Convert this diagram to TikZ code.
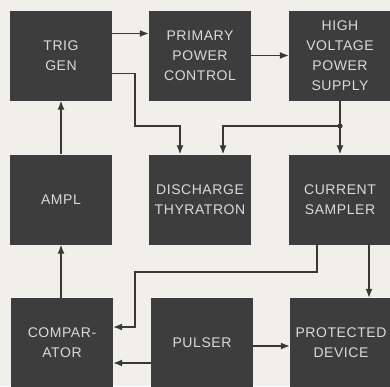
\documentclass[tikz,border=0pt]{standalone}
\usepackage{fontspec}
\setmainfont{Liberation Sans}[LetterSpace=4]
\usetikzlibrary{arrows.meta}

\definecolor{paper}{HTML}{F1EFEA}
\definecolor{boxgray}{HTML}{3D3D3D}
\definecolor{inkgray}{HTML}{383838}
\definecolor{lettergray}{HTML}{DADADA}

\begin{document}
\begin{tikzpicture}[x=1pt, y=-1pt,
  block/.style={rectangle, fill=boxgray, text=lettergray, minimum width=102pt,
    minimum height=90pt, inner sep=0pt, align=center,
    font=\fontsize{14}{20}\selectfont},
  wire/.style={draw=inkgray, line width=1.3pt},
  flow/.style={wire, -{Latex[length=9pt, width=7pt]}}]

  % Paper, cut at the picture edge
  \useasboundingbox (0,0) rectangle (390,386);
  \clip (0,0) rectangle (390,386);
  \fill[paper] (0,0) rectangle (390,386);

  % Draw the blocks
  \node[block] (trig) at (61,55.5) {TRIG\\GEN};
  \node[block] (prim) at (200,55.5) {PRIMARY\\POWER\\CONTROL};
  \node[block] (hv) at (340,55.5) {HIGH\\VOLTAGE\\POWER\\SUPPLY};
  \node[block] (ampl) at (61,199.5) {AMPL};
  \node[block] (disch) at (200,199.5) {DISCHARGE\\THYRATRON};
  \node[block] (cur) at (340,199.5) {CURRENT\\SAMPLER};
  \node[block] (comp) at (62,343) {COMPAR-\\ATOR};
  \node[block] (puls) at (202,343) {PULSER};
  \node[block] (prot) at (341,343) {PROTECTED\\DEVICE};

  % Draw the trigger path
  \draw[flow] ([yshift=22pt]trig.east) -- ([yshift=22pt]prim.west);
  \draw[flow] (prim.east) -- (hv.west);
  \coordinate (bend) at (135,126);
  \draw[flow] ([yshift=-18pt]trig.east) -| (bend) -| ([xshift=-20pt]disch.north);

  % Draw the supply split
  \coordinate (jn) at (hv.south |- bend);
  \draw[flow] (hv.south) -- (cur.north);
  \draw[flow] (jn) -| ([xshift=23pt]disch.north);
  \fill[inkgray] (jn) circle (2.6pt);

  % Draw the feedback loop
  \draw[flow] (ampl.north) -- (trig.south);
  \draw[flow] ([xshift=-1pt]comp.north) -- ([xshift=-1pt]comp.north |- ampl.south);
  \coordinate (drop) at (135,272);
  \draw[flow] ([xshift=-23pt]cur.south) |- (drop) |- ([yshift=16pt]comp.east);

  % Draw the pulser outputs
  \draw[flow] ([xshift=29pt]cur.south) -- ([xshift=29pt]cur.south |- prot.north);
  \draw[flow] ([yshift=-3pt]puls.east) -- ([yshift=-3pt]prot.west);
  \draw[flow] ([yshift=-20pt]puls.west) -- ([yshift=-20pt]comp.east);
\end{tikzpicture}
\end{document}
